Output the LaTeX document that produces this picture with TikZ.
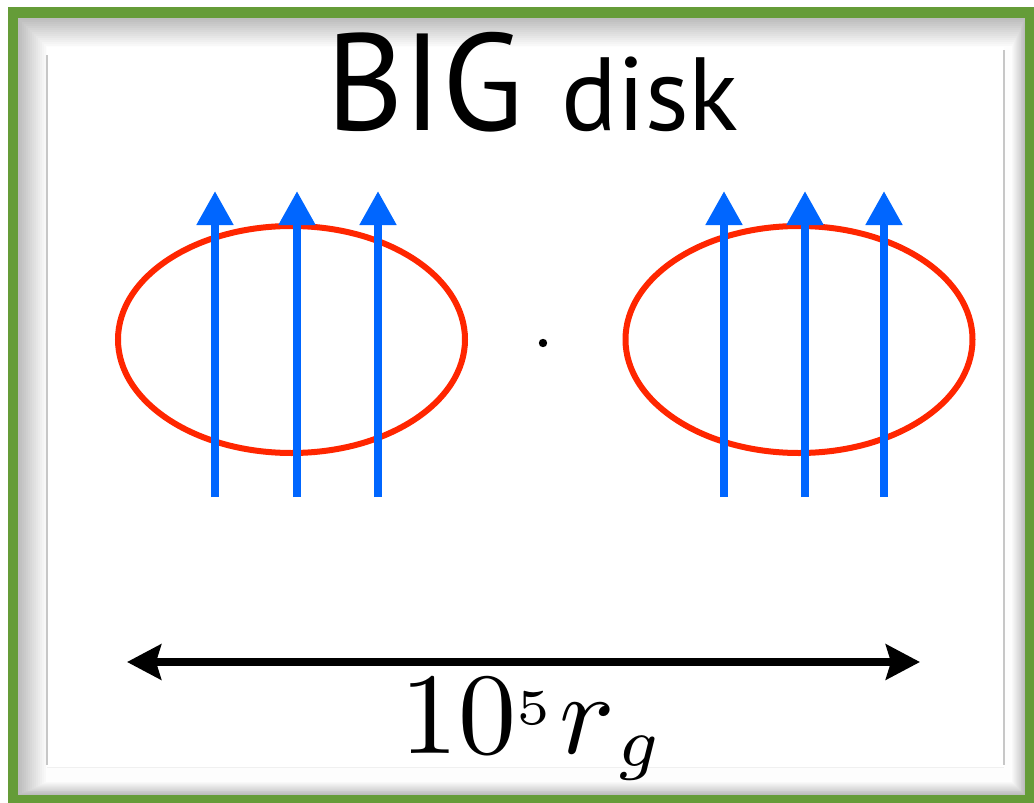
\documentclass[tikz,border=0pt]{standalone}
\usepackage{graphicx}
\usepackage{fontspec}
\newfontfamily\titlefont{PT Sans}
\usetikzlibrary{arrows.meta}
\definecolor{framegreen}{RGB}{101,156,56}
\definecolor{diskred}{RGB}{255,38,0}
\definecolor{fieldblue}{RGB}{0,102,255}
\tikzset{
  disk/.style={draw=diskred, line width=6pt},
  field/.style={draw=fieldblue, line width=8pt, -{Triangle[length=34pt,width=35pt]}},
  scalearrow/.style={draw=black, line width=8pt, {Stealth[length=34pt,width=35pt,inset=5pt]}-{Stealth[length=34pt,width=35pt,inset=5pt]}},
}
\begin{document}
\begin{tikzpicture}[x=1pt,y=-1pt]
\useasboundingbox (0,0) rectangle (1034,803);
\fill[white] (0,0) rectangle (1034,803);
% frame
\fill[framegreen,even odd rule] (8,7) rectangle (1034,803) (18,18) rectangle (1025,795);
\foreach \i in {0,...,14}{
  \pgfmathsetmacro{\g}{26-1.8*\i}
  \fill[black!\g!white] (18+2*\i,18+2*\i) rectangle (1025-0.9*\i,795-0.9*\i);
}
\fill[white] (47,47) rectangle (1004,767);
\draw[black!22, line width=1.5pt] (47,55) -- (47,765);
\draw[black!22, line width=1.5pt] (1004,50) -- (1004,765);
\draw[black!6, line width=1pt] (47,767) -- (1004,767);
% title
\node[anchor=base west, inner sep=0pt, font=\titlefont\fontsize{138}{138}\selectfont] (big) at (326,130) {\scalebox{0.96}[1]{BIG}};
\node[anchor=base west, inner sep=0pt, font=\titlefont\fontsize{104}{104}\selectfont] (disk) at (561,130) {disk};
% disks
\draw[disk] (291.5,339.5) ellipse [x radius=173.5, y radius=113.5];
\draw[disk] (799,339.5) ellipse [x radius=173.5, y radius=113.5];
% field lines
\foreach \x [count=\n] in {215,297,378,724,805,884}{
  \coordinate (fb\n) at (\x,497);
  \coordinate (ft\n) at (\x,191);
  \draw[field] (fb\n) -- (ft\n);
}
% centre dot
\fill (543,343) circle (4.2);
% scale arrow
\coordinate (sl) at (127,662);
\coordinate (sr) at (920,662);
\draw[scalearrow] (sl) -- (sr);
\node[anchor=base west, inner sep=0pt] (scale) at (400,753) {\scalebox{11.6}{$10$}\raisebox{29pt}{\scalebox{10}{$\scriptscriptstyle5$}}\hspace{9pt}\scalebox{11.6}{$r$}\hspace{3pt}\raisebox{-13pt}{\scalebox{10}{$\scriptstyle g$}}};
\end{tikzpicture}
\end{document}
